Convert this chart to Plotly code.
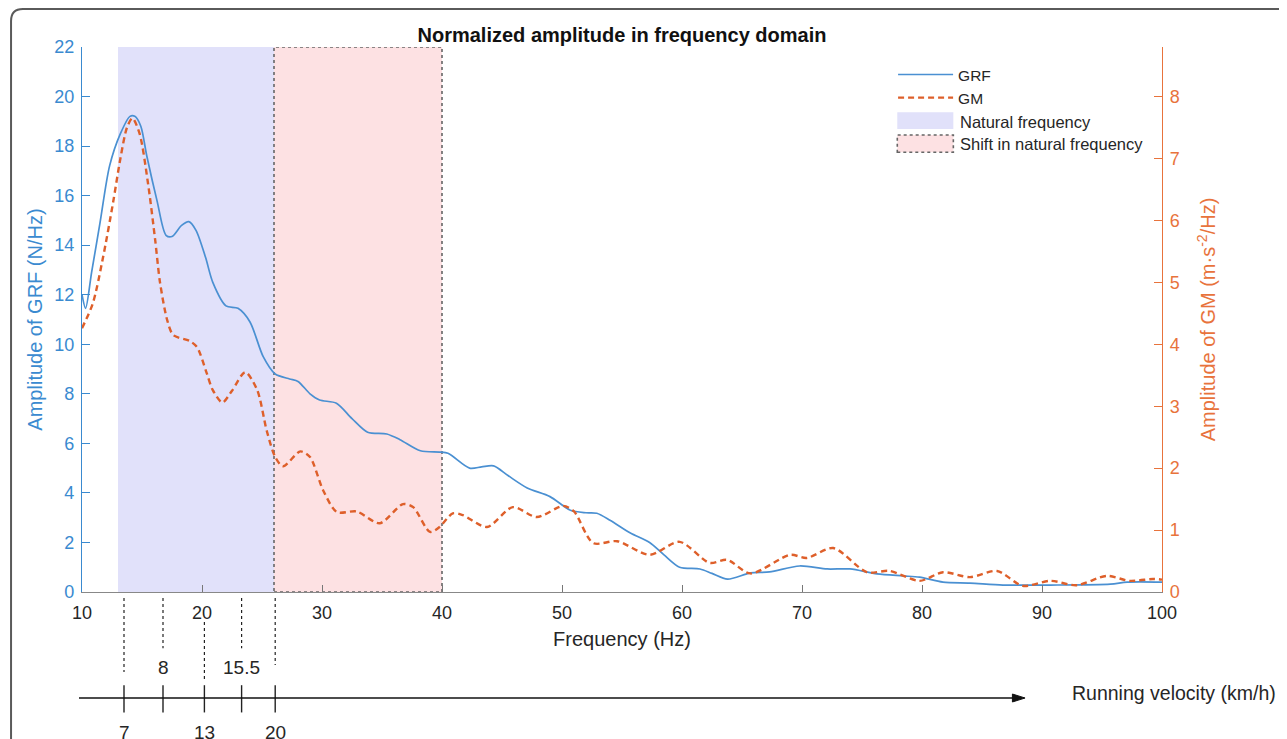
import plotly.graph_objects as go

# ---------------- data ----------------
grf_freq = [10.0, 10.3, 10.8, 11.5, 12.3, 13.2, 14.0, 14.4, 14.9, 15.4, 16.25, 17.0, 17.5, 18.3, 18.9,
            19.5, 20.3, 20.9, 22.0, 23.0, 24.0, 25.1, 26.1, 27.3, 28.0, 29.0, 29.8, 31.2, 32.5, 33.8,
            35.4, 36.5, 38.2, 39.8, 40.5, 42.3, 43.3, 44.3, 45.5, 47.1, 49.0, 50.7, 52.0, 52.9, 54.0,
            55.7, 57.3, 58.5, 59.8, 61.5, 62.5, 63.8, 65.7, 67.3, 69.8, 72.1, 74.0, 76.25, 78.4, 79.8,
            81.75, 84.0, 86.75, 90.7, 95.7, 97.1, 100.0]
grf_amp = [12.0, 11.45, 12.9, 14.9, 17.2, 18.5, 19.2, 19.2, 18.8, 17.6, 15.8, 14.4, 14.35, 14.8, 14.95,
           14.6, 13.5, 12.5, 11.55, 11.45, 10.9, 9.5, 8.8, 8.6, 8.5, 8.0, 7.75, 7.62, 7.0, 6.45,
           6.38, 6.15, 5.7, 5.65, 5.6, 5.0, 5.05, 5.09, 4.7, 4.2, 3.85, 3.3, 3.2, 3.18, 2.9,
           2.38, 2.0, 1.5, 1.0, 0.93, 0.75, 0.52, 0.77, 0.81, 1.05, 0.93, 0.93, 0.73, 0.65, 0.6,
           0.4, 0.36, 0.28, 0.28, 0.32, 0.4, 0.4]

gm_freq = [10.0, 10.9, 11.75, 12.6, 13.2, 13.75, 14.2, 14.8, 15.5, 16.1, 16.5, 17.1, 17.6, 19.0, 19.6,
           20.4, 20.9, 21.7, 22.5, 23.6, 24.6, 25.4, 26.1, 26.75, 28.2, 29.0, 30.1, 31.25, 32.9, 34.8,
           36.75, 37.6, 39.0, 39.8, 40.9, 41.75, 43.75, 45.9, 47.9, 50.1, 51.0, 52.6, 54.6, 57.3, 59.8,
           62.3, 63.75, 65.7, 69.0, 70.4, 72.6, 75.4, 77.3, 79.8, 81.75, 84.0, 86.25, 88.4, 90.7, 92.9,
           95.4, 97.3, 99.25, 100.0]
gm_amp = [4.26, 4.66, 5.4, 6.3, 7.0, 7.5, 7.65, 7.4, 6.6, 5.68, 5.0, 4.39, 4.15, 4.05, 3.95,
          3.53, 3.26, 3.06, 3.25, 3.55, 3.26, 2.6, 2.18, 2.03, 2.27, 2.18, 1.64, 1.29, 1.3, 1.11,
          1.42, 1.37, 0.97, 1.05, 1.27, 1.24, 1.05, 1.37, 1.21, 1.39, 1.3, 0.79, 0.82, 0.6, 0.81,
          0.47, 0.52, 0.3, 0.6, 0.55, 0.71, 0.32, 0.34, 0.18, 0.32, 0.24, 0.34, 0.1, 0.18, 0.11,
          0.26, 0.18, 0.21, 0.2]

natural_band = [13, 26]        # Hz
shift_band = [26, 40]          # Hz
band_names = ["Natural frequency", "Shift in natural frequency"]

x_ticks = [10, 20, 30, 40, 50, 60, 70, 80, 90, 100]
grf_ticks = [0, 2, 4, 6, 8, 10, 12, 14, 16, 18, 20, 22]
gm_ticks = [0, 1, 2, 3, 4, 5, 6, 7, 8]

velocity_freq = [13.5, 16.75, 20.2, 23.3, 26.1]       # Hz position of each velocity mark
velocity_labels = ["7", "8", "13", "15.5", "20"]
velocity_label_above = [False, True, False, True, False]

# ---------------- style ----------------
BLUE = "#4a90d2"
BLUE_AX = "#3a8ad0"
ORANGE = "#de5f2a"
ORANGE_AX = "#e8733c"
FONT = "Liberation Sans, Arial, sans-serif"
TXT = "#262626"
NAT_FILL = "#e1e1fa"
SHIFT_FILL = "#fde1e3"
SHIFT_EDGE = dict(color="#666666", width=1.6, dash="dot")

fig = go.Figure()

fig.add_trace(go.Scatter(x=grf_freq, y=grf_amp, name="GRF", mode="lines",
                         line=dict(color=BLUE, width=1.7, shape="spline", smoothing=0.8),
                         yaxis="y"))
fig.add_trace(go.Scatter(x=gm_freq, y=gm_amp, name="GM", mode="lines",
                         line=dict(color=ORANGE, width=2.4, dash="6px,4px", shape="spline", smoothing=0.8),
                         yaxis="y2"))

# shaded bands
fig.add_shape(type="rect", xref="x", yref="y", x0=natural_band[0], x1=natural_band[1],
              y0=0, y1=22, fillcolor=NAT_FILL, line=dict(width=0), layer="below")
fig.add_shape(type="rect", xref="x", yref="y", x0=shift_band[0], x1=shift_band[1],
              y0=0, y1=22, fillcolor=SHIFT_FILL, line=SHIFT_EDGE, layer="below")

# legend entries for the bands (boxes + labels)
lx0, lx1, ltx = 0.7549, 0.8068, 0.8111
fig.add_shape(type="rect", xref="paper", yref="paper", x0=lx0, x1=lx1, y0=0.8495, y1=0.8802,
              fillcolor=NAT_FILL, line=dict(width=0))
fig.add_shape(type="rect", xref="paper", yref="paper", x0=lx0, x1=lx1, y0=0.8068, y1=0.8385,
              fillcolor=SHIFT_FILL, line=SHIFT_EDGE)
for name, yy in zip(band_names, [0.8629, 0.8215]):
    fig.add_annotation(x=ltx, y=yy, xref="paper", yref="paper", text=name, showarrow=False,
                       xanchor="left", yanchor="middle", font=dict(family=FONT, size=16.5, color=TXT))

# velocity scale under the frequency axis
dash_top = [-0.011, -0.011, -0.055, -0.011, -0.011]
dash_bot = [-0.147, -0.103, -0.162, -0.103, -0.134]
for f, lab, above, t, b in zip(velocity_freq, velocity_labels, velocity_label_above, dash_top, dash_bot):
    fig.add_shape(type="line", xref="x", yref="paper", x0=f, x1=f, y0=t, y1=b,
                  line=dict(color="#222222", width=1.2, dash="3px,3px"))
    fig.add_shape(type="line", xref="x", yref="paper", x0=f, x1=f, y0=-0.171, y1=-0.221,
                  line=dict(color="#222222", width=1.4))
    fig.add_annotation(x=f, xref="x", yref="paper", y=-0.139 if above else -0.257,
                       text=lab, showarrow=False, font=dict(family=FONT, size=19, color=TXT),
                       xanchor="center", yanchor="middle")

# velocity axis arrow
fig.add_shape(type="line", xref="paper", yref="paper", x0=-0.0028, x1=0.866, y0=-0.1945, y1=-0.1945,
              line=dict(color="#111111", width=1.5))
fig.add_shape(type="path", xref="paper", yref="paper",
              path="M0.8615,-0.1872 L0.8732,-0.1945 L0.8615,-0.2018 Z",
              fillcolor="#111111", line=dict(color="#111111", width=1))
fig.add_annotation(x=0.915, y=-0.1853, xref="paper", yref="paper", text="Running velocity (km/h)",
                   showarrow=False, xanchor="left", yanchor="middle",
                   font=dict(family=FONT, size=19.5, color=TXT))

# outer rounded frame
fx0, fy1 = -0.0657, 1.0697
fx1, fy0 = 1.15, -0.30
rx, ry = 0.011, 0.022
fig.add_shape(type="path", xref="paper", yref="paper",
              path=f"M{fx0},{fy0} L{fx0},{fy1-ry} Q{fx0},{fy1} {fx0+rx},{fy1} L{fx1},{fy1}",
              line=dict(color="#5a5a5a", width=2))

fig.update_layout(
    template="none",
    width=1279, height=731,
    margin=dict(l=74, r=125, t=39, b=147, autoexpand=False),
    paper_bgcolor="white", plot_bgcolor="white",
    font=dict(family=FONT, size=18, color=TXT),
    title=dict(text="<b>Normalized amplitude in frequency domain</b>", x=0.5, xref="paper",
               y=1 - 27 / 731, yref="container", xanchor="center", yanchor="middle",
               font=dict(family=FONT, size=20, color="#111111")),
    xaxis=dict(range=[10, 100], tickvals=x_ticks, ticks="inside", ticklen=7, tickcolor="#777777",
               showline=True, linecolor="#888888", linewidth=1.2, showgrid=False, zeroline=False,
               tickfont=dict(size=18, color=TXT), automargin=False, ticklabelstandoff=4,
               title=dict(text="Frequency (Hz)", font=dict(size=20, color=TXT), standoff=10)),
    yaxis=dict(range=[0, 22], tickvals=grf_ticks, ticks="inside", ticklen=8, tickcolor=BLUE_AX,
               showline=True, linecolor=BLUE_AX, linewidth=1.2, showgrid=False, zeroline=False,
               tickfont=dict(size=18, color=BLUE_AX), automargin=False, ticklabelstandoff=3,
               title=dict(text="Amplitude of GRF (N/Hz)", font=dict(size=20, color=BLUE_AX), standoff=6)),
    yaxis2=dict(range=[0, 8.8], tickvals=gm_ticks, ticks="inside", ticklen=8, tickcolor=ORANGE_AX,
                overlaying="y", side="right", anchor="x",
                showline=True, linecolor=ORANGE_AX, linewidth=1.2, showgrid=False, zeroline=False,
                tickfont=dict(size=18, color=ORANGE_AX), automargin=False, ticklabelstandoff=3,
                title=dict(text="Amplitude of GM (m·s<sup>-2</sup>/Hz)", font=dict(size=20, color=ORANGE_AX),
                           standoff=22)),
    legend=dict(x=0.751, y=0.98, xanchor="left", yanchor="top", bgcolor="rgba(255,255,255,0)",
                font=dict(family=FONT, size=15.5, color=TXT), itemwidth=55, tracegroupgap=0),
    showlegend=True,
)

fig.write_html("out.html")
